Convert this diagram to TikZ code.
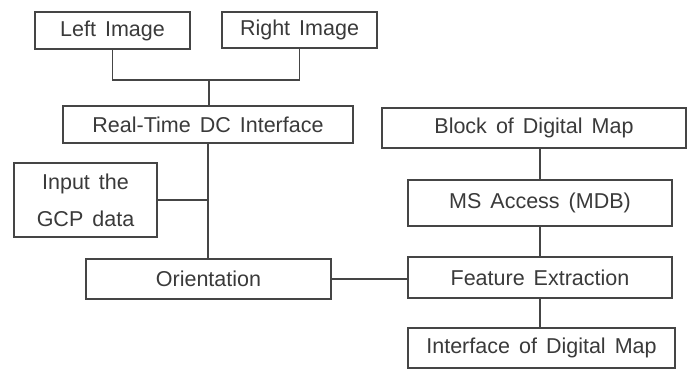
\documentclass[tikz,border=0pt]{standalone}
\usepackage{fontspec}
\setmainfont{Liberation Sans}
\definecolor{ink}{HTML}{3A3A3A}
\definecolor{edge}{HTML}{454545}
\newcommand\labelfont{\fontsize{21.5}{37}\selectfont\spaceskip=0.42em plus 0.1em\relax}
\begin{document}
\begin{tikzpicture}[x=1pt,y=-1pt,
  box/.style={draw=edge, line width=1.4pt, rectangle, inner sep=0pt,
    text=ink, font=\labelfont, align=center},
  link/.style={draw=edge, line width=1.4pt}]
\useasboundingbox (0,0) rectangle (687,369);
\fill[white] (0,0) rectangle (687,369);

% left branch: image acquisition and orientation
\node[box, minimum width=155pt, minimum height=37pt] (left) at (112.5,30.5) {Left Image};
\node[box, minimum width=155pt, minimum height=36pt] (right) at (299.5,30) {Right Image};
\node[box, minimum width=290pt, minimum height=37pt] (rt) at (208,124.5) {Real-Time DC Interface};
\node[box, minimum width=143pt, minimum height=74pt] (gcp) at (85.5,200) {Input the\\GCP data};
\node[box, minimum width=245pt, minimum height=40pt] (orient) at (208.5,279) {Orientation};

% right branch: digital map processing
\node[box, minimum width=304pt, minimum height=40pt] (block) at (534,128) {Block of Digital Map};
\node[box, minimum width=264pt, minimum height=46pt] (ms) at (540,203) {MS Access (MDB)};
\node[box, minimum width=264pt, minimum height=41pt] (fe) at (540,277.5) {Feature Extraction};
\node[box, minimum width=267pt, minimum height=40pt] (imap) at (541.5,348) {Interface of Digital Map};

% connectors
\coordinate (join) at (209,80);
\draw[link] (left.south) |- (join) -| (right.south);
\draw[link] (join) -- (join |- rt.north);
\draw[link] (rt.south) -- (rt.south |- orient.north);
\draw[link] (gcp.east) -- (gcp.east -| rt.south);
\draw[link] (orient.east) -- (orient.east -| fe.west);
\draw[link] (ms.north |- block.south) -- (ms.north);
\draw[link] (ms.south) -- (fe.north);
\draw[link] (fe.south) -- (fe.south |- imap.north);
\end{tikzpicture}
\end{document}
